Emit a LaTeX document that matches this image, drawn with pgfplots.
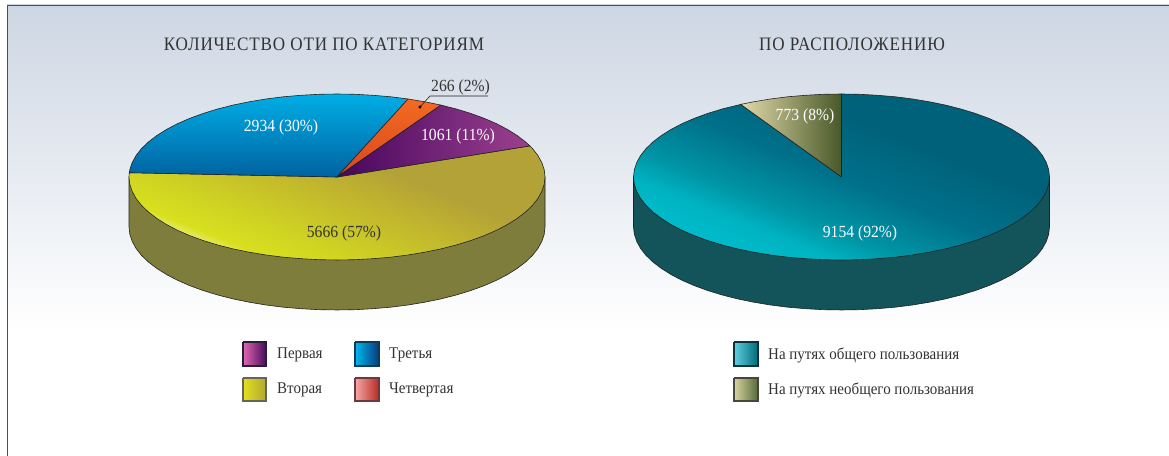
\documentclass[border=0pt]{standalone}
\usepackage{fontspec}
\usepackage{pgfplots}
\pgfplotsset{compat=1.18}
\setmainfont{Liberation Serif}[FakeStretch=0.92]
\newfontface\titlefont{Liberation Serif}[FakeStretch=0.9,LetterSpace=4.5]

\definecolor{ytop0}{HTML}{F0F09A}
\definecolor{ytop1}{HTML}{D8E01E}
\definecolor{ytop2}{HTML}{D0D422}
\definecolor{ytop3}{HTML}{BFB22F}
\definecolor{ytop4}{HTML}{B3A237}
\definecolor{ttop0}{HTML}{C0ECF0}
\definecolor{ttop1}{HTML}{40C8D4}
\definecolor{ttop2}{HTML}{00BCCB}
\definecolor{ttop3}{HTML}{00B4C2}
\definecolor{ttop4}{HTML}{0095A6}
\definecolor{ttop5}{HTML}{00708A}
\definecolor{ttop6}{HTML}{00627A}
\definecolor{framebg}{HTML}{CDD6E3}
\definecolor{txt}{HTML}{333333}
\definecolor{edge}{HTML}{222222}
\definecolor{sideolive}{HTML}{7F7D3C}
\definecolor{sideteal}{HTML}{13535A}

% shadings of the pie tops
\pgfdeclarehorizontalshading{yellowtop}{100bp}{
  color(0bp)=(white); color(27bp)=(ytop0); color(31bp)=(ytop1);
  color(38bp)=(ytop2); color(54bp)=(ytop3); color(62bp)=(ytop4); color(100bp)=(ytop4)}
\pgfdeclarehorizontalshading{tealtop}{100bp}{
  color(0bp)=(white); color(20bp)=(ttop0); color(24bp)=(ttop1); color(26bp)=(ttop2);
  color(33bp)=(ttop3); color(39bp)=(ttop4); color(50bp)=(ttop5); color(62bp)=(ttop6); color(100bp)=(ttop6)}

% side wall of both pies, pixels from the pie centre
\pgfplotstableread{
x y
208 0
208 -50
207.2 -57.2
204.8 -64.4
200.9 -71.5
195.5 -78.4
188.5 -85.1
180.1 -91.5
170.4 -97.6
159.3 -103.4
147.1 -108.7
133.7 -113.6
119.3 -118
104 -121.9
87.9 -125.2
71.1 -128
53.8 -130.2
36.1 -131.7
18.1 -132.7
0 -133
-18.1 -132.7
-36.1 -131.7
-53.8 -130.2
-71.1 -128
-87.9 -125.2
-104 -121.9
-119.3 -118
-133.7 -113.6
-147.1 -108.7
-159.3 -103.4
-170.4 -97.6
-180.1 -91.5
-188.5 -85.1
-195.5 -78.4
-200.9 -71.5
-204.8 -64.4
-207.2 -57.2
-208 -50
-208 0
208 0
}\sidewall

\pgfplotsset{
  pieaxis/.style={
    at={(0,0)}, anchor=south west,
    scale only axis, width=1169pt, height=456pt,
    hide axis, ymin=-279, ymax=177,
  },
}
\tikzset{
  wedge/.style={draw=edge, line width=0.6pt, line join=round},
  swatch/.style={line width=1.3pt, line join=miter},
  val/.style={font=\fontsize{17}{17}\selectfont},
  leg/.style={font=\fontsize{16.3}{16.3}\selectfont, anchor=west, inner sep=0pt, text=txt},
  ttl/.style={font=\fontsize{19}{19}\titlefont, text=txt},
}

\begin{document}
\begin{tikzpicture}
% left pie, categories
\begin{axis}[pieaxis, xmin=-337, xmax=832]
  \addplot[fill=white, draw=none] coordinates {(-337,177) (832,177) (832,-279) (-337,-279)};
  \addplot[top color=framebg, bottom color=white, draw=none] coordinates {(-330,172) (832,172) (832,-153) (-330,-153)};
  \addplot[draw=edge!80!white, line width=1pt] coordinates {(-330,-279) (-330,171.5) (832,171.5)};

  \addplot[fill=sideolive, wedge] table[x=x,y=y] {\sidewall};

  % Вторая 5666
  \addplot[shading=yellowtop, shading angle=68, wedge] coordinates {
    (0,0) (192.9,31.1) (195.5,28.4) (200.9,21.5) (204.8,14.4) (207.2,7.2) (208,0)
    (207.2,-7.2) (204.8,-14.4) (200.9,-21.5) (195.5,-28.4) (188.5,-35.1) (180.1,-41.5) (170.4,-47.6)
    (159.3,-53.4) (147.1,-58.7) (133.7,-63.6) (119.3,-68) (104,-71.9) (87.9,-75.2) (71.1,-78)
    (53.8,-80.2) (36.1,-81.7) (18.1,-82.7) (0,-83) (-18.1,-82.7) (-36.1,-81.7) (-53.8,-80.2)
    (-71.1,-78) (-87.9,-75.2) (-104,-71.9) (-119.3,-68) (-133.7,-63.6) (-147.1,-58.7) (-159.3,-53.4)
    (-170.4,-47.6) (-180.1,-41.5) (-188.5,-35.1) (-195.5,-28.4) (-200.9,-21.5) (-204.8,-14.4)
    (-207.2,-7.2) (-208,0) (-207.7,4.3) (0,0)};
  % Третья 2934
  \addplot[top color={rgb,255:red,0;green,174;blue,230}, bottom color={rgb,255:red,0;green,98;blue,160}, wedge] coordinates {
    (0,0) (71.1,78) (53.8,80.2) (36.1,81.7) (18.1,82.7) (0,83) (-18.1,82.7) (-36.1,81.7) (-53.8,80.2)
    (-71.1,78) (-87.9,75.2) (-104,71.9) (-119.3,68) (-133.7,63.6) (-147.1,58.7) (-159.3,53.4)
    (-170.4,47.6) (-180.1,41.5) (-188.5,35.1) (-195.5,28.4) (-200.9,21.5) (-204.8,14.4) (-207.2,7.2)
    (-207.7,4.3) (0,0)};
  % Четвертая 266
  \addplot[top color={rgb,255:red,244;green,106;blue,34}, bottom color={rgb,255:red,216;green,70;blue,30}, wedge] coordinates {
    (0,0) (71.1,78) (87.9,75.2) (104,71.9) (0,0)};
  % Первая 1061
  \addplot[left color={rgb,255:red,70;green,6;blue,92}, right color={rgb,255:red,156;green,64;blue,144}, wedge] coordinates {
    (0,0) (104,71.9) (119.3,68) (133.7,63.6) (147.1,58.7) (159.3,53.4) (170.4,47.6) (180.1,41.5)
    (188.5,35.1) (192.9,31.1) (0,0)};

  \addplot[edge, line width=0.6pt] coordinates {(151,81) (93,81) (83,70)};
  \addplot[only marks, mark=*, mark size=1.4pt, mark options={fill=black, draw=black}] coordinates {(83,70)};

  \node[val, text=white] at (axis cs:-56,50) {2934 (30\%)};
  \node[val, text=white] at (axis cs:121,41) {1061 (11\%)};
  \node[val, text=txt] at (axis cs:7,-56) {5666 (57\%)};
  \node[val, text=txt] at (axis cs:123.5,90) {266 (2\%)};
  \node[ttl] at (axis cs:-13,133) {КОЛИЧЕСТВО ОТИ ПО КАТЕГОРИЯМ};

  \addplot[swatch, draw={rgb,255:red,40;green,30;blue,60}, left color={rgb,255:red,226;green,104;blue,178}, right color={rgb,255:red,74;green,10;blue,92}]
    coordinates {(-94,-165) (-71,-165) (-71,-189) (-94,-189) (-94,-165)};
  \addplot[swatch, draw={rgb,255:red,100;green,100;blue,90}, left color={rgb,255:red,226;green,224;blue,30}, right color={rgb,255:red,179;green,168;blue,50}]
    coordinates {(-94,-201) (-71,-201) (-71,-224) (-94,-224) (-94,-201)};
  \addplot[swatch, draw={rgb,255:red,10;green,60;blue,90}, left color={rgb,255:red,0;green,184;blue,238}, right color={rgb,255:red,10;green,58;blue,124}]
    coordinates {(18,-165) (42,-165) (42,-189) (18,-189) (18,-165)};
  \addplot[swatch, draw={rgb,255:red,106;green,58;blue,64}, left color={rgb,255:red,244;green,168;blue,168}, right color={rgb,255:red,184;green,42;blue,32}]
    coordinates {(18,-201) (42,-201) (42,-224) (18,-224) (18,-201)};
  \node[leg] at (axis cs:-60,-178) {Первая};
  \node[leg] at (axis cs:-60,-213) {Вторая};
  \node[leg] at (axis cs:52,-178) {Третья};
  \node[leg] at (axis cs:52,-213) {Четвертая};
\end{axis}

% right pie, location
\begin{axis}[pieaxis, xmin=-841.5, xmax=327.5]
  \addplot[fill=sideteal, wedge] table[x=x,y=y] {\sidewall};

  % На путях общего пользования 9154
  \addplot[shading=tealtop, shading angle=68, wedge] coordinates {
    (0,0) (0,83) (18.1,82.7) (36.1,81.7) (53.8,80.2) (71.1,78) (87.9,75.2) (104,71.9) (119.3,68)
    (133.7,63.6) (147.1,58.7) (159.3,53.4) (170.4,47.6) (180.1,41.5) (188.5,35.1) (195.5,28.4)
    (200.9,21.5) (204.8,14.4) (207.2,7.2) (208,0)
    (207.2,-7.2) (204.8,-14.4) (200.9,-21.5) (195.5,-28.4) (188.5,-35.1) (180.1,-41.5) (170.4,-47.6)
    (159.3,-53.4) (147.1,-58.7) (133.7,-63.6) (119.3,-68) (104,-71.9) (87.9,-75.2) (71.1,-78)
    (53.8,-80.2) (36.1,-81.7) (18.1,-82.7) (0,-83) (-18.1,-82.7) (-36.1,-81.7) (-53.8,-80.2)
    (-71.1,-78) (-87.9,-75.2) (-104,-71.9) (-119.3,-68) (-133.7,-63.6) (-147.1,-58.7) (-159.3,-53.4)
    (-170.4,-47.6) (-180.1,-41.5) (-188.5,-35.1) (-195.5,-28.4) (-200.9,-21.5) (-204.8,-14.4)
    (-207.2,-7.2) (-208,0) (-207.2,7.2) (-204.8,14.4) (-200.9,21.5) (-195.5,28.4) (-188.5,35.1)
    (-180.1,41.5) (-170.4,47.6) (-159.3,53.4) (-147.1,58.7) (-133.7,63.6) (-119.3,68) (-100.8,72.6) (0,0)};
  % На путях необщего пользования 773
  \addplot[left color={rgb,255:red,226;green,218;blue,170}, right color={rgb,255:red,72;green,88;blue,40}, wedge] coordinates {
    (0,0) (0,83) (-18.1,82.7) (-36.1,81.7) (-53.8,80.2) (-71.1,78) (-87.9,75.2) (-100.8,72.6) (0,0)};

  \node[val, text=white] at (axis cs:-36.5,61) {773 (8\%)};
  \node[val, text=white] at (axis cs:18.5,-56) {9154 (92\%)};
  \node[ttl] at (axis cs:10.5,133) {ПО РАСПОЛОЖЕНИЮ};

  \addplot[swatch, draw={rgb,255:red,10;green,50;blue,60}, left color={rgb,255:red,96;green,208;blue,224}, right color={rgb,255:red,0;green,106;blue,120}]
    coordinates {(-107.5,-165) (-83.5,-165) (-83.5,-189) (-107.5,-189) (-107.5,-165)};
  \addplot[swatch, draw={rgb,255:red,70;green,70;blue,60}, left color={rgb,255:red,216;green,212;blue,160}, right color={rgb,255:red,85;green,105;blue,58}]
    coordinates {(-107.5,-201) (-83.5,-201) (-83.5,-224) (-107.5,-224) (-107.5,-201)};
  \node[leg] at (axis cs:-73.5,-178) {На путях общего пользования};
  \node[leg] at (axis cs:-73.5,-213) {На путях необщего пользования};
\end{axis}
\end{tikzpicture}
\end{document}
